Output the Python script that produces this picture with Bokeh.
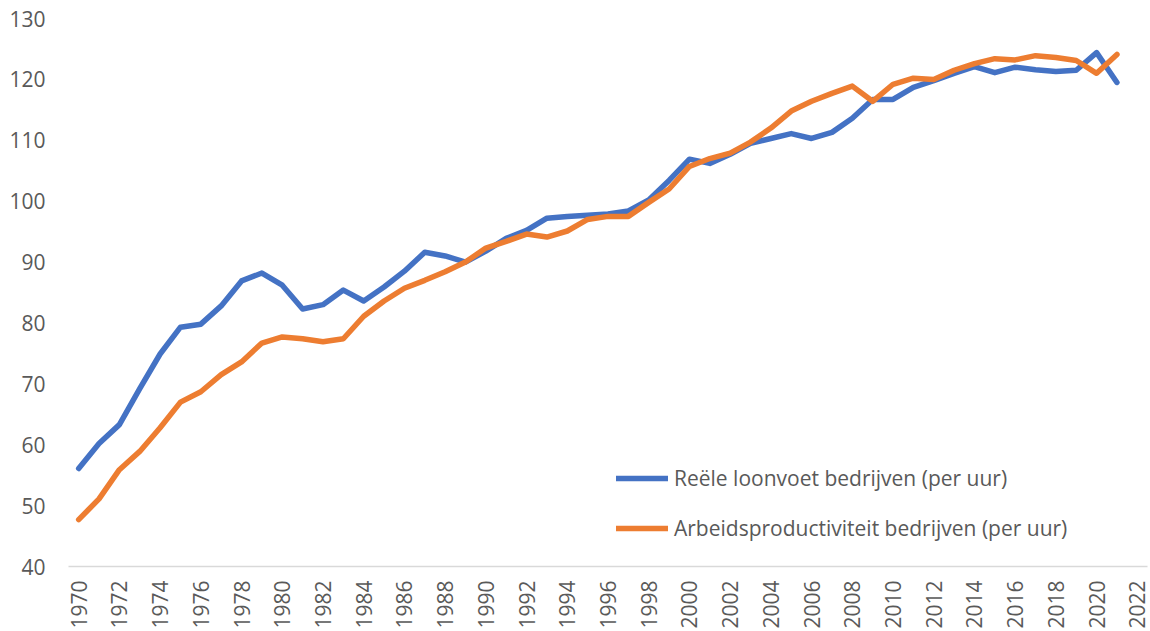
import math
from bokeh.plotting import figure
from bokeh.models import FixedTicker, Legend, LegendItem, ColumnDataSource
from bokeh.embed import file_html
from bokeh.resources import INLINE

years = list(range(1970, 2022))
wages = [56.1, 60.2, 63.3, 69.2, 74.9, 79.3, 79.8, 82.8, 86.9, 88.2,
         86.2, 82.3, 83.0, 85.4, 83.6, 85.9, 88.5, 91.6, 91.0, 90.0,
         91.8, 93.9, 95.2, 97.2, 97.5, 97.7, 97.9, 98.4, 100.2, 103.4,
         106.9, 106.2, 107.7, 109.5, 110.3, 111.1, 110.3, 111.3, 113.6, 116.7,
         116.7, 118.7, 119.8, 121.0, 122.1, 121.1, 122.0, 121.6, 121.3, 121.5,
         124.4, 119.5]
productivity = [47.7, 51.1, 55.9, 58.9, 62.8, 67.0, 68.7, 71.5, 73.6, 76.7,
                77.7, 77.4, 76.9, 77.4, 81.1, 83.6, 85.7, 87.0, 88.4, 90.0,
                92.3, 93.4, 94.6, 94.1, 95.1, 97.0, 97.5, 97.5, 99.8, 102.0,
                105.7, 107.0, 107.9, 109.7, 112.0, 114.8, 116.4, 117.7, 118.9, 116.4,
                119.2, 120.2, 120.0, 121.5, 122.6, 123.4, 123.2, 123.9, 123.6, 123.1,
                121.0, 124.1]
x_ticks = list(range(1970, 2023, 2))
y_ticks = list(range(40, 131, 10))
series_names = ["Reële loonvoet bedrijven (per uur)",
                "Arbeidsproductiviteit bedrijven (per uur)"]
colors = ["#4472C4", "#ED7D31"]

FONT = "Open Sans"
TEXT_COLOR = "#595959"

p = figure(width=1150, height=631, output_backend="svg", toolbar_location=None,
           x_range=(1969.5, 2022.5), y_range=(40, 130),
           min_border_left=68, min_border_right=3, min_border_top=18,
           min_border_bottom=64)
p.outline_line_color = None
p.xgrid.visible = False
p.ygrid.visible = False
p.background_fill_color = "white"
p.border_fill_color = "white"

src = ColumnDataSource(dict(year=years, wages=wages, prod=productivity))
r1 = p.line("year", "wages", source=src, line_color=colors[0], line_width=5.5,
            line_cap="round", line_join="round")
r2 = p.line("year", "prod", source=src, line_color=colors[1], line_width=5.5,
            line_cap="round", line_join="round")

# y axis
ya = p.yaxis[0]
ya.ticker = FixedTicker(ticks=y_ticks)
ya.axis_line_color = None
ya.major_tick_line_color = None
ya.minor_tick_line_color = None
ya.major_tick_in = 0
ya.major_tick_out = 0
ya.major_label_standoff = 23
ya.major_label_text_font = FONT
ya.major_label_text_font_size = "21px"
ya.major_label_text_color = TEXT_COLOR

# x axis
xa = p.xaxis[0]
xa.ticker = FixedTicker(ticks=x_ticks)
xa.axis_line_color = "#D9D9D9"
xa.axis_line_width = 1.5
xa.major_tick_line_color = None
xa.minor_tick_line_color = None
xa.major_tick_in = 0
xa.major_tick_out = 0
xa.major_label_standoff = 14
xa.major_label_orientation = math.pi / 2
xa.major_label_text_font = FONT
xa.major_label_text_font_size = "21px"
xa.major_label_text_color = TEXT_COLOR

legend = Legend(items=[LegendItem(label=series_names[0], renderers=[r1]),
                       LegendItem(label=series_names[1], renderers=[r2])],
                location=(548, 23))
legend.background_fill_alpha = 0
legend.border_line_color = None
legend.padding = 0
legend.margin = 0
legend.spacing = 20
legend.glyph_width = 52
legend.glyph_height = 30
legend.label_height = 30
legend.label_standoff = 6
legend.label_text_font = FONT
legend.label_text_font_size = "21px"
legend.label_text_color = TEXT_COLOR
p.add_layout(legend)

open("out.html", "w").write(file_html(p, INLINE))
